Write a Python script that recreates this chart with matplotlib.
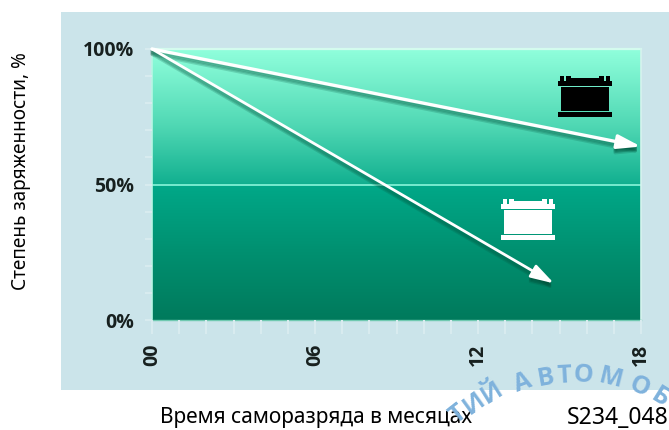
import numpy as np
import matplotlib
matplotlib.use('Agg')
import matplotlib.pyplot as plt
from matplotlib.colors import LinearSegmentedColormap
from matplotlib.patches import Rectangle

W, H = 669, 430
plt.rcParams['font.family'] = ['Noto Sans', 'DejaVu Sans']
BOLD = ['Open Sans', 'Roboto', 'DejaVu Sans']

months = [0, 18]
charge_black = [100, 64]
charge_white_months = [0, 14.8]
charge_white = [100, 13.5]

y_ticks = [0, 50, 100]
y_labels = ['0%', '50%', '100%']
x_ticks = [0, 6, 12, 18]
x_labels = ['00', '06', '12', '18']

ylabel = 'Степень заряженности, %'
xlabel = 'Время саморазряда в месяцах'
code = 'S234_048'

# watermark letters: letter, x px, y px, angle
wm_letters = ['Т', 'И', 'Й', 'А', 'В', 'Т', 'О', 'М', 'О', 'Б']
wm_x = [458, 474, 492, 523, 546, 564, 583, 611, 639, 660]
wm_y = [414, 404, 393, 383, 378, 376, 375, 379, 387, 398]
wm_rot = [38, 36, 32, 20, 10, 3, -5, -14, -24, -32]

PANEL = '#cbe4ea'
TICK = '#d8ebef'


def box(x0, y0, x1, y1):
    # pixel box (top-left origin) to figure fractions
    return [x0 / W, 1 - y1 / H, (x1 - x0) / W, (y1 - y0) / H]


fig = plt.figure(figsize=(W / 100, H / 100), dpi=100, facecolor='white')

# light blue panel
bg = fig.add_axes(box(61, 12, 669, 390))
bg.set_facecolor(PANEL)
bg.set_xticks([])
bg.set_yticks([])
for s in bg.spines.values():
    s.set_visible(False)

ax = fig.add_axes(box(152, 49, 641, 320))
ax.set_xlim(0, 18)
ax.set_ylim(0, 100)
ax.patch.set_alpha(0)

cmap = LinearSegmentedColormap.from_list('g', [
    (0.0, '#007a5c'), (0.25, '#009070'), (0.497, '#00a888'),
    (0.503, '#12b090'), (0.72, '#50d8b4'), (1.0, '#90ffdc')])
grad = np.linspace(0, 1, 256).reshape(-1, 1)
ax.imshow(grad, cmap=cmap, origin='lower', aspect='auto', extent=[0, 18, 0, 100], zorder=0)

ax.axhline(50, color='#7ff0d4', lw=1.3, zorder=1)
for s in ax.spines.values():
    s.set_visible(False)
ax.plot([0, 18], [100, 100], color='#d4fbee', lw=1.6, zorder=1, clip_on=False)
ax.plot([18, 18], [0, 100], color='#d6f3ee', lw=1.2, zorder=1, clip_on=False)
ax.plot([0, 0], [0, 100], color='#b8f5e4', lw=1.2, zorder=1, clip_on=False)
ax.plot([0, 18], [0, 0], color='#6fc9b0', lw=1.0, zorder=1, clip_on=False)

ax.set_xticks(x_ticks)
ax.set_xticklabels(x_labels, rotation=90, fontsize=14, fontweight='bold', color='#17201f', family=BOLD)
ax.set_xticks(np.arange(0, 19), minor=True)
ax.set_yticks(y_ticks)
ax.set_yticklabels(y_labels, fontsize=14, fontweight='bold', color='#17201f', family=BOLD)
ax.set_yticks(np.arange(0, 101, 10), minor=True)
ax.tick_params(axis='x', which='both', length=10, width=1.5, color=TICK, pad=7)
ax.tick_params(axis='y', which='both', length=5, width=1.5, color=TICK, pad=8)


def arrow(xs, ys, lw):
    style = '-|>,head_length=1.4,head_width=0.42'
    # soft dark shadow first, then the white arrow
    for off in [0.5, 1.0, 1.5, 2.0]:
        ax.annotate('', xy=(xs[1], ys[1] - off), xytext=(xs[0], ys[0] - off), zorder=3,
                    arrowprops=dict(arrowstyle=style, color='#00503a', alpha=0.2, lw=lw,
                                    shrinkA=0, shrinkB=0))
    ax.annotate('', xy=(xs[1], ys[1]), xytext=(xs[0], ys[0]), zorder=4,
                arrowprops=dict(arrowstyle=style, color='white', lw=lw, shrinkA=0, shrinkB=0))


arrow(months, charge_black, 2.4)
arrow(charge_white_months, charge_white, 2.0)


def battery(x0, y0, color):
    # little battery icon, pixel offsets from its top-left corner
    over = fig.add_axes(box(x0, y0, x0 + 54, y0 + 41))
    over.set_xlim(0, 54)
    over.set_ylim(41, 0)
    over.axis('off')
    parts = [(2, 0, 4, 5), (8, 0, 5, 5), (13, 1.5, 28, 3.5), (41, 0, 5, 5), (48, 0, 4, 5),
             (0, 5, 54, 4.5), (3, 10.5, 48, 24.5), (0, 36, 54, 5)]
    for px, py, pw, ph in parts:
        over.add_patch(Rectangle((px, py), pw, ph, fc=color, ec='none'))


battery(558, 76, 'black')
battery(501, 199, 'white')

fig.text(21 / W, 1 - 171 / H, ylabel, rotation=90, ha='center', va='center', fontsize=13.7, color='black')
fig.text(316 / W, 1 - 418 / H, xlabel, ha='center', va='center', fontsize=15, color='black')
fig.text(567 / W, 1 - 418 / H, code, ha='left', va='center', fontsize=16.5, color='black')

for letter, x, y, r in zip(wm_letters, wm_x, wm_y, wm_rot):
    fig.text(x / W, 1 - y / H, letter, rotation=r, ha='center', va='center', family=BOLD,
             fontsize=18, fontweight='bold', color='#7fb2dc', zorder=10)

fig.savefig('out.png', dpi=100)
